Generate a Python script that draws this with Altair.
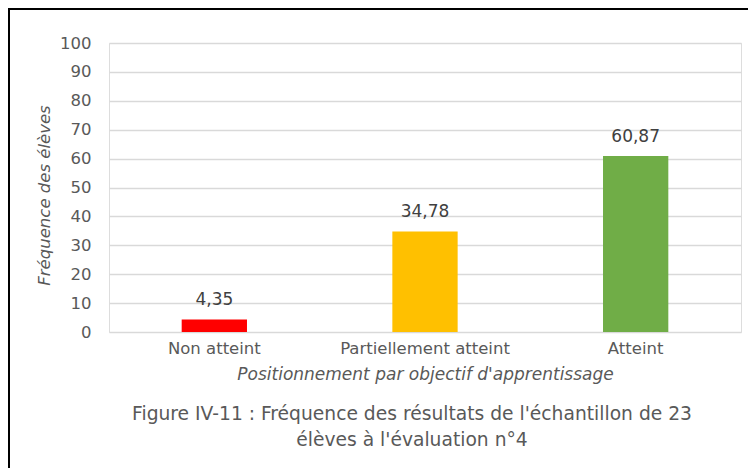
import altair as alt
import pandas as pd

categories = ["Non atteint", "Partiellement atteint", "Atteint"]
values = [4.35, 34.78, 60.87]
colors = ["#FF0000", "#FFC000", "#70AD47"]
y_ticks = [0, 10, 20, 30, 40, 50, 60, 70, 80, 90, 100]

df = pd.DataFrame({
    "cat": categories,
    "val": values,
    "lab": [f"{v:.2f}".replace(".", ",") for v in values],
    "col": colors,
})

FONT = "DejaVu Sans"
W, H = 632, 289
PB = 136

x = alt.X("cat:N", sort=categories, title="Positionnement par objectif d'apprentissage",
          scale=alt.Scale(paddingInner=0.0, paddingOuter=0.0),
          axis=alt.Axis(labelAngle=0, labelFontSize=16.5, labelColor="#595959", labelFont=FONT,
                        titleFont=FONT, titleFontSize=17, titleFontStyle="italic", titleFontWeight="normal",
                        titleColor="#595959", titlePadding=10, domain=False, ticks=False, labelPadding=8))
y = alt.Y("val:Q", title="Fréquence des élèves",
          scale=alt.Scale(domain=[0, 100], nice=False),
          axis=alt.Axis(values=y_ticks, tickCount=len(y_ticks), labelOverlap=False, labelFontSize=16.5,
                        labelColor="#595959", labelFont=FONT,
                        titleFont=FONT, titleFontSize=16.5, titleFontStyle="italic", titleFontWeight="normal",
                        titleColor="#595959", titlePadding=7, titleY=152, domain=False, ticks=False,
                        labelPadding=18, gridColor="#D9D9D9", gridWidth=1.3))

base = alt.Chart(df)
bars = base.mark_bar(width=alt.RelativeBandSize(0.31)).encode(
    x=x, y=y, color=alt.Color("col:N", scale=None))
labels = base.mark_text(baseline="bottom", dy=-10, fontSize=17, font=FONT, color="#404040").encode(
    x=x, y=y, text="lab:N")

border_top = base.mark_rule(color="black", strokeWidth=2).encode(
    x=alt.value(-101), x2=alt.value(W + 10), y=alt.value(-34))
border_left = base.mark_rule(color="black", strokeWidth=2).encode(
    x=alt.value(-100), y=alt.value(-35), y2=alt.value(H + PB))

chart = alt.layer(bars, labels, border_top, border_left).properties(
    width=W, height=H,
    autosize=alt.AutoSizeParams(type="none"),
    padding={"left": 101, "top": 35, "right": 7, "bottom": PB},
    title=alt.TitleParams(
        ["Figure IV-11 : Fréquence des résultats de l'échantillon de 23", "élèves à l'évaluation n°4"],
        orient="bottom", anchor="middle", font=FONT, fontSize=18.7, fontWeight="normal",
        color="#595959", offset=0, dx=-13, dy=-64, lineHeight=26),
).configure_view(stroke=None).configure(background="white")

chart.save("out.html", embed_options={"renderer": "svg", "actions": False})
